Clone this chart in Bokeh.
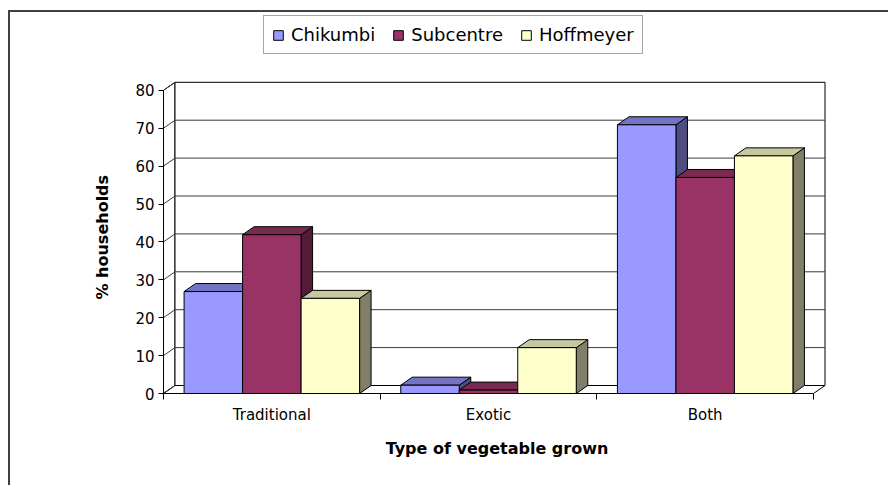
from bokeh.plotting import figure
from bokeh.models import Range1d, FixedTicker, Legend, LegendItem, Title
from bokeh.embed import file_html
from bokeh.resources import INLINE

# ---------------- data ----------------
categories = ["Traditional", "Exotic", "Both"]
series_names = ["Chikumbi", "Subcentre", "Hoffmeyer"]
chikumbi = [26.9, 2.2, 70.9]
subcentre = [41.9, 0.9, 57.0]
hoffmeyer = [25.1, 12.1, 62.7]
y_ticks = [0, 10, 20, 30, 40, 50, 60, 70, 80]
y_title = "% households"
x_title = "Type of vegetable grown"

# ---------------- styles ----------------
front_colors = ["#9999FF", "#993366", "#FFFFCC"]
top_colors = ["#7474C4", "#7A2952", "#C8C8A0"]
side_colors = ["#4D4D80", "#521B38", "#80806A"]
FONT = "DejaVu Sans"

W, H = 880, 475
FL, FT, FR, FB = 153, 2, 60, 94
frame_w = W - FL - FR
frame_h = H - FT - FB
PX_PER_X = 216.67
PX_PER_Y = 3.79
x_end = frame_w / PX_PER_X
y_end = frame_h / PX_PER_Y
DX = 11.5 / PX_PER_X
DY = 8.0 / PX_PER_Y
BAR_W = 0.27
GAP = 0.095
n_cat = len(categories)
y_max = y_ticks[-1]

p = figure(width=W, height=H, output_backend="svg", toolbar_location=None,
           x_range=Range1d(0, x_end), y_range=Range1d(0, y_end),
           min_border_left=FL, min_border_top=FT, min_border_right=FR, min_border_bottom=FB,
           background_fill_color="white", border_fill_color="white",
           styles={"border-left": "2px solid #404040", "border-top": "2px solid #404040",
                   "margin-top": "10px", "margin-left": "8px"})
p.outline_line_color = None
p.grid.visible = False

# ---------------- 3D walls ----------------
wall_line = "#000000"
p.patch([0, DX, DX, 0], [0, DY, y_max + DY, y_max], fill_color="white", line_color=wall_line, line_width=1)
p.patch([DX, n_cat + DX, n_cat + DX, DX], [DY, DY, y_max + DY, y_max + DY],
        fill_color="white", line_color=wall_line, line_width=1)
p.patch([0, n_cat, n_cat + DX, DX], [0, 0, DY, DY], fill_color="white", line_color=wall_line, line_width=1)
inner = [t for t in y_ticks if 0 < t < y_max]
p.segment(x0=[DX] * len(inner), y0=[t + DY for t in inner],
          x1=[n_cat + DX] * len(inner), y1=[t + DY for t in inner],
          line_color="#3a3a3a", line_width=1)
p.segment(x0=[0] * len(y_ticks), y0=y_ticks, x1=[DX] * len(y_ticks), y1=[t + DY for t in y_ticks],
          line_color="#3a3a3a", line_width=1)

# ---------------- bars ----------------
renderers = []
for j, vals in enumerate([chikumbi, subcentre, hoffmeyer]):
    x0s = [i + GAP + j * BAR_W for i in range(n_cat)]
    x1s = [x + BAR_W for x in x0s]
    side_xs = [[x1, x1 + DX, x1 + DX, x1] for x1 in x1s]
    side_ys = [[0, DY, v + DY, v] for v in vals]
    top_xs = [[x0, x1, x1 + DX, x0 + DX] for x0, x1 in zip(x0s, x1s)]
    top_ys = [[v, v, v + DY, v + DY] for v in vals]
    p.patches(side_xs, side_ys, fill_color=side_colors[j], line_color="black", line_width=1)
    p.patches(top_xs, top_ys, fill_color=top_colors[j], line_color="black", line_width=1)
    r = p.quad(left=x0s, right=x1s, bottom=[0] * n_cat, top=vals,
               fill_color=front_colors[j], line_color="black", line_width=1)
    renderers.append(r)

# ---------------- axes ----------------
xa = p.xaxis[0]
xa.bounds = (0, n_cat)
xa.ticker = FixedTicker(ticks=[i + 0.5 for i in range(n_cat)], minor_ticks=list(range(n_cat + 1)))
xa.major_label_overrides = {i + 0.5: c for i, c in enumerate(categories)}
xa.major_tick_out = 0
xa.major_tick_in = 0
xa.minor_tick_out = 6
xa.minor_tick_in = 0
xa.major_label_standoff = 6
xa.major_label_text_font = FONT
xa.major_label_text_font_size = "15px"
xa.major_label_text_color = "black"
xa.axis_line_color = "black"
xa.minor_tick_line_color = "black"
xa.axis_label = x_title
xa.axis_label_text_font = FONT
xa.axis_label_text_font_size = "16px"
xa.axis_label_text_font_style = "bold"
xa.axis_label_text_color = "black"
xa.axis_label_standoff = 12

ya = p.yaxis[0]
ya.bounds = (0, y_max)
ya.ticker = FixedTicker(ticks=y_ticks, minor_ticks=[])
ya.major_tick_out = 5
ya.major_tick_in = 0
ya.minor_tick_out = 0
ya.minor_tick_in = 0
ya.major_label_standoff = 4
ya.major_label_text_font = FONT
ya.major_label_text_font_size = "15px"
ya.major_label_text_color = "black"
ya.axis_line_color = "black"
ya.major_tick_line_color = "black"

# y-axis title, centred on the 0-80 span of the axis
y_label = Title(text=y_title, align="left", offset=94, vertical_align="middle", standoff=39,
                text_font=FONT, text_font_size="16px", text_font_style="bold", text_color="black")
p.add_layout(y_label, "left")

# ---------------- legend ----------------
legend = Legend(items=[LegendItem(label=n, renderers=[r]) for n, r in zip(series_names, renderers)],
                orientation="horizontal", location=(100, 339),
                border_line_color="#505050", border_line_width=1,
                background_fill_color="white", background_fill_alpha=1.0,
                label_text_font=FONT, label_text_font_size="18px", label_text_color="black",
                glyph_width=12, glyph_height=12, label_standoff=7, spacing=17,
                padding=8, margin=0)
p.add_layout(legend)

open("out.html", "w").write(file_html(p, INLINE))
